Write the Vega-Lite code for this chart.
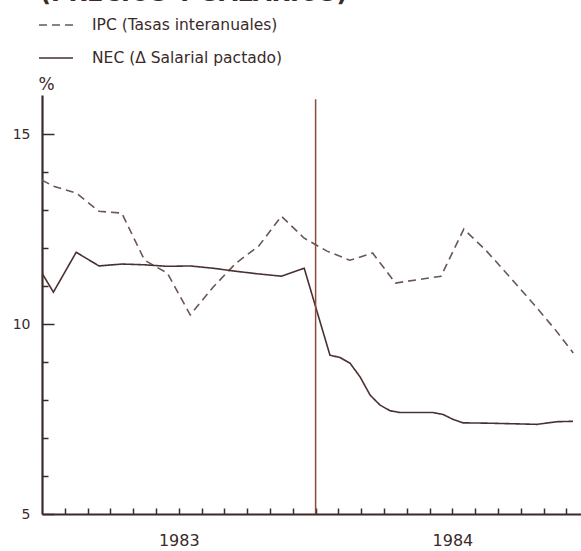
{
  "$schema": "https://vega.github.io/schema/vega-lite/v6.json",
  "width": 539,
  "height": 419,
  "autosize": {"type": "none"},
  "padding": {"left": 42, "top": 95, "right": 0, "bottom": 37},
  "background": "white",
  "title": {
    "text": "(PRECIOS Y SALARIOS)",
    "anchor": "start",
    "frame": "group",
    "offset": 1,
    "dx": -2,
    "fontSize": 24,
    "fontWeight": "bold",
    "font": "DejaVu Sans",
    "color": "#3a2a2a"
  },
  "config": {
    "view": {"stroke": null},
    "font": "DejaVu Sans",
    "axis": {
      "grid": false,
      "domainColor": "#3a2a2a",
      "tickColor": "#3a2a2a",
      "labelColor": "#3a2a2a",
      "titleColor": "#3a2a2a"
    }
  },
  "datasets": {
    "series": [
      {"serie": "IPC (Tasas interanuales)", "mes": 0, "valor": 13.79},
      {"serie": "IPC (Tasas interanuales)", "mes": 0.5, "valor": 13.63},
      {"serie": "IPC (Tasas interanuales)", "mes": 1.5, "valor": 13.45},
      {"serie": "IPC (Tasas interanuales)", "mes": 2.5, "valor": 12.97},
      {"serie": "IPC (Tasas interanuales)", "mes": 3.5, "valor": 12.92},
      {"serie": "IPC (Tasas interanuales)", "mes": 4.5, "valor": 11.68},
      {"serie": "IPC (Tasas interanuales)", "mes": 5.5, "valor": 11.34},
      {"serie": "IPC (Tasas interanuales)", "mes": 6.5, "valor": 10.24},
      {"serie": "IPC (Tasas interanuales)", "mes": 7.5, "valor": 10.97},
      {"serie": "IPC (Tasas interanuales)", "mes": 8.5, "valor": 11.6},
      {"serie": "IPC (Tasas interanuales)", "mes": 9.5, "valor": 12.05},
      {"serie": "IPC (Tasas interanuales)", "mes": 10.5, "valor": 12.84},
      {"serie": "IPC (Tasas interanuales)", "mes": 11.5, "valor": 12.26},
      {"serie": "IPC (Tasas interanuales)", "mes": 12.5, "valor": 11.92},
      {"serie": "IPC (Tasas interanuales)", "mes": 13.5, "valor": 11.68},
      {"serie": "IPC (Tasas interanuales)", "mes": 14.5, "valor": 11.87},
      {"serie": "IPC (Tasas interanuales)", "mes": 15.5, "valor": 11.08},
      {"serie": "IPC (Tasas interanuales)", "mes": 16.5, "valor": 11.17},
      {"serie": "IPC (Tasas interanuales)", "mes": 17.5, "valor": 11.26},
      {"serie": "IPC (Tasas interanuales)", "mes": 18.5, "valor": 12.5},
      {"serie": "IPC (Tasas interanuales)", "mes": 19.5, "valor": 11.92},
      {"serie": "IPC (Tasas interanuales)", "mes": 20.5, "valor": 11.25},
      {"serie": "IPC (Tasas interanuales)", "mes": 21.5, "valor": 10.57},
      {"serie": "IPC (Tasas interanuales)", "mes": 22.5, "valor": 9.86},
      {"serie": "IPC (Tasas interanuales)", "mes": 23.3, "valor": 9.24},
      {"serie": "NEC (Δ Salarial pactado)", "mes": 0, "valor": 11.34},
      {"serie": "NEC (Δ Salarial pactado)", "mes": 0.5, "valor": 10.84},
      {"serie": "NEC (Δ Salarial pactado)", "mes": 1.5, "valor": 11.89},
      {"serie": "NEC (Δ Salarial pactado)", "mes": 2.5, "valor": 11.53},
      {"serie": "NEC (Δ Salarial pactado)", "mes": 3.5, "valor": 11.58},
      {"serie": "NEC (Δ Salarial pactado)", "mes": 4.5, "valor": 11.56},
      {"serie": "NEC (Δ Salarial pactado)", "mes": 5.5, "valor": 11.52},
      {"serie": "NEC (Δ Salarial pactado)", "mes": 6.5, "valor": 11.53},
      {"serie": "NEC (Δ Salarial pactado)", "mes": 7.5, "valor": 11.47},
      {"serie": "NEC (Δ Salarial pactado)", "mes": 8.5, "valor": 11.39},
      {"serie": "NEC (Δ Salarial pactado)", "mes": 9.5, "valor": 11.32},
      {"serie": "NEC (Δ Salarial pactado)", "mes": 10.5, "valor": 11.26},
      {"serie": "NEC (Δ Salarial pactado)", "mes": 11.5, "valor": 11.47},
      {"serie": "NEC (Δ Salarial pactado)", "mes": 12.63, "valor": 9.18},
      {"serie": "NEC (Δ Salarial pactado)", "mes": 13.07, "valor": 9.12},
      {"serie": "NEC (Δ Salarial pactado)", "mes": 13.51, "valor": 8.97},
      {"serie": "NEC (Δ Salarial pactado)", "mes": 13.95, "valor": 8.61},
      {"serie": "NEC (Δ Salarial pactado)", "mes": 14.39, "valor": 8.13},
      {"serie": "NEC (Δ Salarial pactado)", "mes": 14.82, "valor": 7.87},
      {"serie": "NEC (Δ Salarial pactado)", "mes": 15.26, "valor": 7.72},
      {"serie": "NEC (Δ Salarial pactado)", "mes": 15.7, "valor": 7.67},
      {"serie": "NEC (Δ Salarial pactado)", "mes": 17.15, "valor": 7.67},
      {"serie": "NEC (Δ Salarial pactado)", "mes": 17.59, "valor": 7.62},
      {"serie": "NEC (Δ Salarial pactado)", "mes": 18.03, "valor": 7.49},
      {"serie": "NEC (Δ Salarial pactado)", "mes": 18.46, "valor": 7.4},
      {"serie": "NEC (Δ Salarial pactado)", "mes": 19.65, "valor": 7.39},
      {"serie": "NEC (Δ Salarial pactado)", "mes": 21.71, "valor": 7.36},
      {"serie": "NEC (Δ Salarial pactado)", "mes": 22.59, "valor": 7.43},
      {"serie": "NEC (Δ Salarial pactado)", "mes": 23.29, "valor": 7.44}
    ],
    "marca": [{"mes": 12}]
  },
  "layer": [
    {
      "data": {"name": "series"},
      "mark": {"type": "line", "strokeWidth": 1.6, "clip": true},
      "encoding": {
        "x": {
          "field": "mes", "type": "quantitative",
          "scale": {"domain": [0, 23.64], "nice": false, "zero": false},
          "axis": {
            "orient": "bottom",
            "values": [1,2,3,4,5,6,7,8,9,10,11,12,13,14,15,16,17,18,19,20,21,22,23],
            "labels": false,
            "tickSize": -6,
            "tickWidth": 1.5,
            "domainWidth": 2.2,
            "title": null
          }
        },
        "y": {
          "field": "valor", "type": "quantitative",
          "scale": {"domain": [5, 16.03], "nice": false, "zero": false},
          "axis": {
            "orient": "left",
            "values": [5, 10, 15],
            "tickSize": -12,
            "tickWidth": 1.5,
            "domainWidth": 2.2,
            "labelFontSize": 14,
            "labelPadding": 24,
            "title": "%",
            "titleAngle": 0,
            "titleX": 4,
            "titleY": -6,
            "titleAlign": "center",
            "titleBaseline": "alphabetic",
            "titleFontSize": 17,
            "titleFontWeight": "normal"
          }
        },
        "color": {
          "field": "serie", "type": "nominal",
          "scale": {"domain": ["IPC (Tasas interanuales)", "NEC (Δ Salarial pactado)"], "range": ["#6a5656", "#4a3030"]},
          "legend": {
            "orient": "none", "legendX": -4, "legendY": -88, "title": null,
            "symbolType": "stroke", "symbolSize": 1156, "symbolStrokeWidth": 1.6,
            "labelFontSize": 15.5, "labelColor": "#3a2a2a", "labelOffset": 18, "rowPadding": 6, "labelLimit": 0
          }
        },
        "strokeDash": {
          "field": "serie", "type": "nominal",
          "scale": {"domain": ["IPC (Tasas interanuales)", "NEC (Δ Salarial pactado)"], "range": [[8, 5], [1, 0]]},
          "legend": {
            "orient": "none", "legendX": -4, "legendY": -88, "title": null,
            "symbolType": "stroke", "symbolSize": 1156, "symbolStrokeWidth": 1.6,
            "labelFontSize": 15.5, "labelColor": "#3a2a2a", "labelOffset": 18, "rowPadding": 6, "labelLimit": 0
          }
        }
      }
    },
    {
      "data": {"name": "marca"},
      "mark": {"type": "rule", "color": "#8b4a3a", "strokeWidth": 1.5},
      "encoding": {
        "x": {
          "field": "mes", "type": "quantitative",
          "scale": {"domain": [0, 23.64], "nice": false, "zero": false},
          "axis": {
            "orient": "bottom",
            "values": [6, 18],
            "labelExpr": "datum.value == 6 ? '1983' : '1984'",
            "ticks": false,
            "domain": false,
            "labelFontSize": 16,
            "labelPadding": 18,
            "title": null
          }
        },
        "y": {
          "datum": 5,
          "scale": {"domain": [5, 16.03], "nice": false, "zero": false},
          "axis": {
            "orient": "left",
            "values": [6, 7, 8, 9, 11, 12, 13, 14],
            "labels": false,
            "tickSize": -6,
            "tickWidth": 1.5,
            "domain": false,
            "title": null
          }
        },
        "y2": {"datum": 15.92}
      }
    }
  ],
  "resolve": {"axis": {"x": "independent", "y": "independent"}}
}
